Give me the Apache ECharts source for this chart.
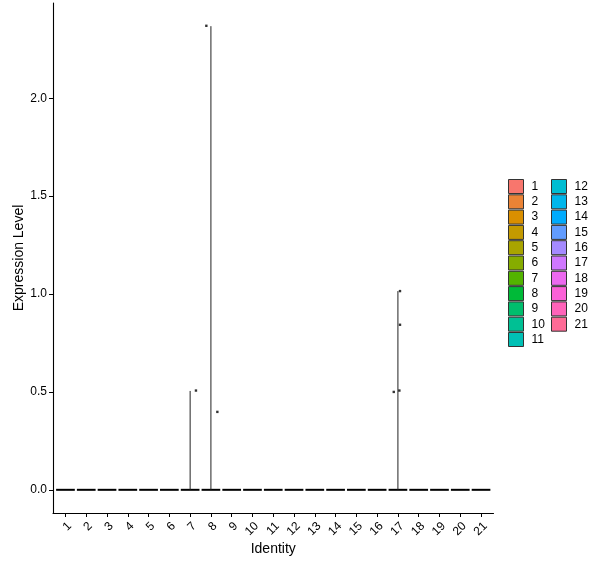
<!DOCTYPE html>
<html>
<head>
<meta charset="utf-8">
<script src="https://cdn.jsdelivr.net/npm/echarts@6/dist/echarts.min.js"></script>
<style>html,body{margin:0;padding:0;background:#fff}#c{width:600px;height:568px}</style>
</head>
<body>
<div id="c"></div>
<script>
// ---- data ----
const categories = ['1','2','3','4','5','6','7','8','9','10','11','12','13','14','15','16','17','18','19','20','21'];
const violinTop = [0,0,0,0,0,0,0.505,2.368,0,0,0,0,0,0,0,0,1.015,0,0,0,0];
const pointX = [7.28, 7.78, 8.31, 17.10, 17.10, 16.80, 17.07];
const pointY = [0.507, 2.370, 0.398, 1.015, 0.843, 0.500, 0.507];
const yTicks = [0, 0.5, 1, 1.5, 2];
const legendCol1 = categories.slice(0, 11);
const legendCol2 = categories.slice(11);

// ggplot2 hue palette (HCL, c=100, l=65)
function hcl(h, c, l) {
  const hr = h * Math.PI / 180;
  const U = c * Math.cos(hr), V = c * Math.sin(hr);
  const Xn = 95.047, Yn = 100, Zn = 108.883;
  const Y = Yn * (l > 7.999592 ? Math.pow((l + 16) / 116, 3) : l / 903.3);
  const uN = 4 * Xn / (Xn + 15 * Yn + 3 * Zn), vN = 9 * Yn / (Xn + 15 * Yn + 3 * Zn);
  const u = U / (13 * l) + uN, v = V / (13 * l) + vN;
  const X = 9 * Y * u / (4 * v);
  const Z = -X / 3 - 5 * Y + 3 * Y / v;
  const x = X / 100, y = Y / 100, z = Z / 100;
  const lin = [
    3.240479 * x - 1.537150 * y - 0.498535 * z,
    -0.969256 * x + 1.875992 * y + 0.041556 * z,
    0.055648 * x - 0.204043 * y + 1.057311 * z
  ];
  const g = lin.map(t => {
    t = t <= 0.0031308 ? 12.92 * t : 1.055 * Math.pow(t, 1 / 2.4) - 0.055;
    t = Math.max(0, Math.min(1, t));
    return Math.round(t * 255).toString(16).padStart(2, '0');
  });
  return '#' + g.join('');
}
const n = categories.length;
const palette = categories.map((_, i) => hcl(15 + i * 360 / n, 100, 65));

const FONT = 'Liberation Sans, Arial, sans-serif';

const violinSeries = categories.map((name, i) => ({
  name: name,
  type: 'custom',
  xAxisIndex: 0,
  yAxisIndex: 0,
  itemStyle: { color: palette[i] },
  data: [[i + 1, violinTop[i]]],
  renderItem: function (params, api) {
    const x = api.value(0), top = api.value(1);
    const a = api.coord([x - 0.45, 0]);
    const b = api.coord([x + 0.45, 0]);
    const c0 = api.coord([x, 0]);
    const c1 = api.coord([x, top]);
    const children = [{
      type: 'line',
      shape: { x1: a[0], y1: a[1], x2: b[0], y2: b[1] },
      style: { stroke: '#000', lineWidth: 2 }
    }];
    if (top > 0) {
      children.push({
        type: 'line',
        shape: { x1: c0[0], y1: c0[1], x2: c1[0], y2: c1[1] },
        style: { stroke: '#222', lineWidth: 1 }
      });
    }
    return { type: 'group', children: children };
  }
}));

const pointSeries = {
  name: 'points',
  type: 'scatter',
  symbol: 'rect',
  symbolSize: 2.4,
  itemStyle: { color: '#000' },
  data: pointX.map((x, i) => [x, pointY[i]]),
  z: 5
};

const legendBase = {
  orient: 'vertical',
  icon: 'rect',
  itemWidth: 15,
  itemHeight: 14,
  itemGap: 0.3,
  padding: 0,
  selectedMode: false,
  itemStyle: { borderColor: '#333', borderWidth: 1 },
  textStyle: { fontFamily: FONT, fontSize: 12, color: '#000', lineHeight: 14, padding: [0, 0, 0, 3] }
};

const chart = echarts.init(document.getElementById('c'), null, { renderer: 'canvas' });
chart.setOption({
  backgroundColor: '#fff',
  animation: false,
  grid: { left: 53, right: 106.5, top: 3, bottom: 55, containLabel: false },
  xAxis: {
    type: 'value',
    min: 0.4,
    max: 21.6,
    name: 'Identity',
    nameLocation: 'middle',
    nameGap: 29,
    nameMoveOverlap: false,
    nameTextStyle: { fontFamily: FONT, fontSize: 14, color: '#000' },
    axisLine: { onZero: false, lineStyle: { color: '#000', width: 1.1 } },
    axisTick: { show: true, length: 4, customValues: categories.map((_, i) => i + 1), lineStyle: { color: '#000' } },
    axisLabel: {
      customValues: categories.map((_, i) => i + 1),
      formatter: v => categories[Math.round(v) - 1],
      rotate: 45,
      margin: 7,
      verticalAlign: 'top',
      fontFamily: FONT, fontSize: 12, color: '#000'
    },
    splitLine: { show: false }
  },
  yAxis: {
    type: 'value',
    min: -0.1184,
    max: 2.4864,
    name: 'Expression Level',
    nameLocation: 'middle',
    nameGap: 27,
    nameMoveOverlap: false,
    nameTextStyle: { fontFamily: FONT, fontSize: 14, color: '#000' },
    axisLine: { show: true, onZero: false, lineStyle: { color: '#000', width: 1.1 } },
    axisTick: { show: true, length: 4, customValues: yTicks, lineStyle: { color: '#000' } },
    axisLabel: {
      customValues: yTicks,
      formatter: v => v.toFixed(1),
      margin: 6,
      fontFamily: FONT, fontSize: 12, color: '#000'
    },
    splitLine: { show: false }
  },
  legend: [
    Object.assign({}, legendBase, { left: 508, top: 179, data: legendCol1 }),
    Object.assign({}, legendBase, { left: 551, top: 179, data: legendCol2 })
  ],
  series: violinSeries.concat([pointSeries])
});
</script>
</body>
</html>
